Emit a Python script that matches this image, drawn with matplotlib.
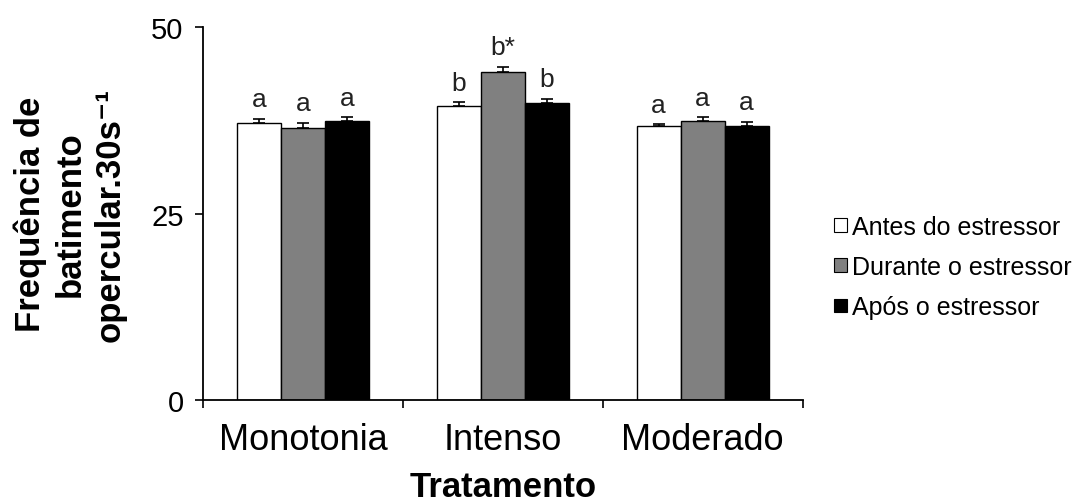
import matplotlib
matplotlib.use("Agg")
import matplotlib.pyplot as plt
from matplotlib.patches import Patch
import numpy as np

plt.rcParams["font.family"] = ["Liberation Sans", "DejaVu Sans"]

categories = ["Monotonia", "Intenso", "Moderado"]
series = ["Antes do estressor", "Durante o estressor", "Após o estressor"]
antes = [37.2, 39.4, 36.7]
durante = [36.5, 44.0, 37.4]
apos = [37.4, 39.8, 36.8]
antes_err = [0.5, 0.5, 0.3]
durante_err = [0.7, 0.7, 0.5]
apos_err = [0.5, 0.6, 0.5]
letters_antes = ["a", "b", "a"]
letters_durante = ["a", "b*", "a"]
letters_apos = ["a", "b", "a"]

colors = ["white", "#808080", "black"]

fig = plt.figure(figsize=(10.86, 5.02), dpi=100)
ax = fig.add_axes([0.187, 0.201, 0.552, 0.743])

x = np.arange(len(categories)) + 0.5
width = 0.22
offsets = [-width, 0, width]
vals = [antes, durante, apos]
errs = [antes_err, durante_err, apos_err]
letters = [letters_antes, letters_durante, letters_apos]

for k in range(3):
    ax.bar(x + offsets[k], vals[k], width, color=colors[k],
           edgecolor="black", linewidth=1.0, zorder=2)
    ax.errorbar(x + offsets[k], vals[k], yerr=[np.zeros(3), errs[k]],
                fmt="none", ecolor="black", elinewidth=1.2, capsize=4,
                capthick=1.2, zorder=3)
    for i in range(3):
        ax.annotate(letters[k][i], (x[i] + offsets[k], vals[k][i] + errs[k][i]),
                    xytext=(0, 9), textcoords="offset points",
                    ha="center", va="baseline", fontsize=19, color="#222222")

ax.set_xlim(0, 3)
ax.set_ylim(0, 50)
ax.set_yticks([0, 25, 50])
ax.tick_params(axis="y", labelsize=21, direction="out", length=6, width=1.2, pad=8)
ax.set_xticks([0, 1, 2, 3])
ax.set_xticklabels([])
ax.tick_params(axis="x", which="major", direction="out", length=6, width=1.2)
ax.set_xticks(x, minor=True)
ax.set_xticklabels(categories, minor=True, fontsize=26)
ax.tick_params(axis="x", which="minor", length=0, pad=16)

for s in ["top", "right"]:
    ax.spines[s].set_visible(False)
for s in ["left", "bottom"]:
    ax.spines[s].set_linewidth(1.3)

ax.set_xlabel("Tratamento", fontsize=25, fontweight="bold", labelpad=9)
ax.set_ylabel("Frequência de\nbatimento\nopercular.30s⁻¹",
              fontsize=25, fontweight="bold", linespacing=1.25)
ax.yaxis.set_label_coords(-0.128, 0.5)

handles = [Patch(facecolor=c, edgecolor="black", linewidth=0.8) for c in colors]
fig.legend(handles, series, loc="center left", bbox_to_anchor=(0.768, 0.466),
           frameon=False, fontsize=18, handlelength=0.5, handleheight=0.45,
           handletextpad=0.2, labelspacing=0.65, borderpad=0, borderaxespad=0)

fig.savefig("out.png", dpi=100)
